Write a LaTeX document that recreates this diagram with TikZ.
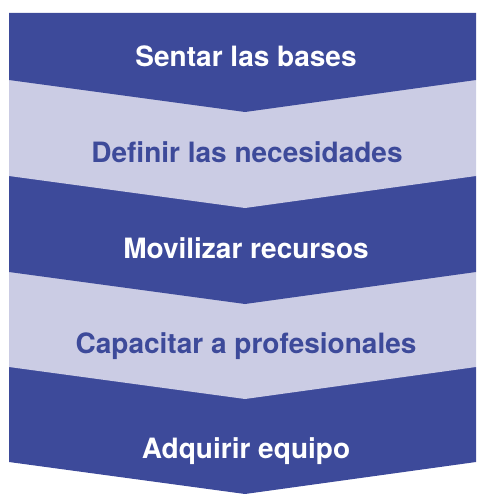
\documentclass[tikz,border=0pt]{standalone}
\usepackage{fontspec}
\setmainfont{TeX Gyre Heros}
\usepackage{tikz}
\usetikzlibrary{calc}
\definecolor{stepdark}{RGB}{61,74,154}
\definecolor{steplight}{RGB}{203,204,228}
\tikzset{
  steplabel/.style={font=\bfseries\fontsize{28}{34}\selectfont, anchor=base, inner sep=0pt},
}
\begin{document}
\begin{tikzpicture}[x=1pt,y=-1pt]
\useasboundingbox (0,0) rectangle (476,494);
% bands, lowest first so every tip lies over the band below it
\foreach \yt/\yb/\col in {367/462/stepdark,272/367/steplight,176/272/stepdark,80/176/steplight,13/80/stepdark}{
  \fill[\col] (9,\yt) -- (476,\yt) -- (476,\yb) -- (245,\yb+32) -- (9,\yb) -- cycle;
}
% labels
\node[steplabel,white] (bases) at (246,67) {Sentar las bases};
\node[steplabel,stepdark] (necesidades) at (247,163) {Definir las necesidades};
\node[steplabel,white] (recursos) at (246,258) {Movilizar recursos};
\node[steplabel,stepdark] (profesionales) at (246,353) {Capacitar a profesionales};
\node[steplabel,white] (equipo) at (246,458) {Adquirir equipo};
\end{tikzpicture}
\end{document}
